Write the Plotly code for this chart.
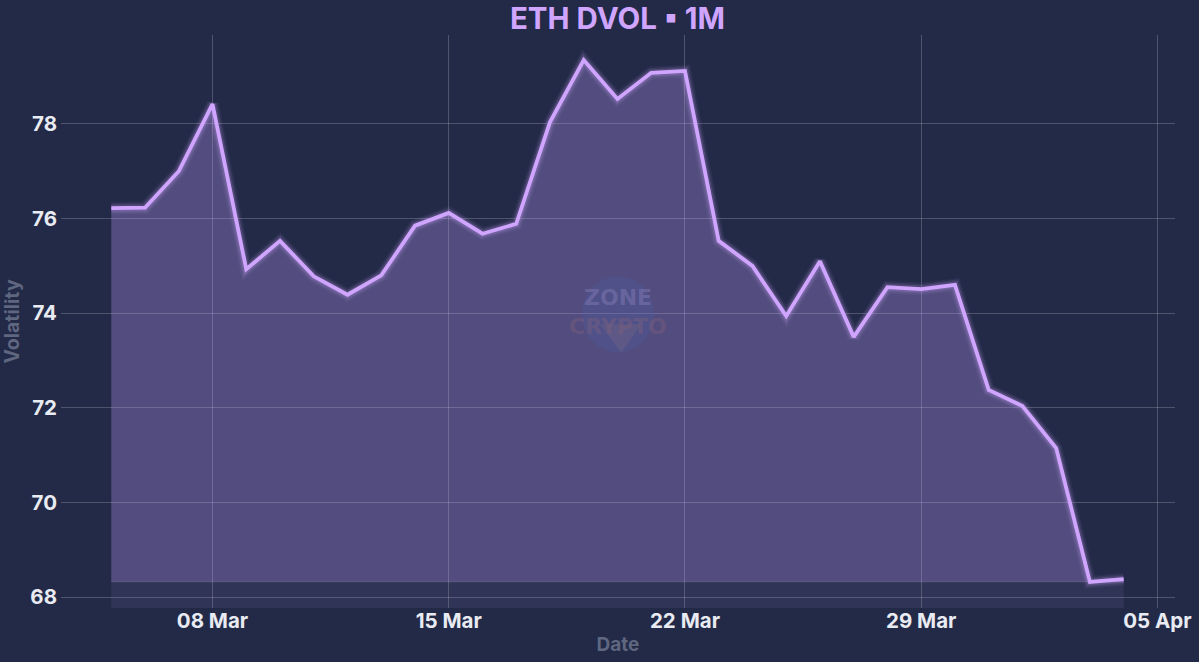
import plotly.graph_objects as go

# daily ETH DVOL values
dates = [
    "2025-03-05", "2025-03-06", "2025-03-07", "2025-03-08", "2025-03-09", "2025-03-10", "2025-03-11",
    "2025-03-12", "2025-03-13", "2025-03-14", "2025-03-15", "2025-03-16", "2025-03-17", "2025-03-18",
    "2025-03-19", "2025-03-20", "2025-03-21", "2025-03-22", "2025-03-23", "2025-03-24", "2025-03-25",
    "2025-03-26", "2025-03-27", "2025-03-28", "2025-03-29", "2025-03-30", "2025-03-31", "2025-04-01",
    "2025-04-02", "2025-04-03", "2025-04-04",
]
dvol = [
    76.22, 76.23, 77.0, 78.42, 74.93, 75.53, 74.78,
    74.39, 74.8, 75.85, 76.12, 75.68, 75.89, 78.04,
    79.35, 78.53, 79.08, 79.12, 75.53, 75.0, 73.94,
    75.1, 73.5, 74.55, 74.51, 74.6, 72.38, 72.04,
    71.15, 68.32, 68.38,
]
floor = [min(dvol)] * len(dvol)

tick_dates = ["2025-03-08", "2025-03-15", "2025-03-22", "2025-03-29", "2025-04-05"]
tick_labels = ["08 Mar", "15 Mar", "22 Mar", "29 Mar", "05 Apr"]
y_ticks = [68, 70, 72, 74, 76, 78]

BG = "#222A47"
PURPLE = "#D0A5FF"

fig = go.Figure()

# pale band from the lowest value down to the axis
fig.add_trace(go.Scatter(
    x=dates, y=floor, mode="lines", line=dict(width=1, color="rgba(255,255,255,0.10)"),
    fill="tozeroy", fillcolor="rgba(200,170,255,0.09)", hoverinfo="skip",
))
# main area between the lowest value and the line
fig.add_trace(go.Scatter(
    x=dates, y=dvol, mode="lines", line=dict(width=0),
    fill="tonexty", fillcolor="rgba(196,160,255,0.30)", hoverinfo="skip",
))
# glow
for w, a in [(13, 0.05), (10, 0.09), (7, 0.16)]:
    fig.add_trace(go.Scatter(
        x=dates, y=dvol, mode="lines", hoverinfo="skip",
        line=dict(color=f"rgba(208,165,255,{a})", width=w),
    ))
fig.add_trace(go.Scatter(x=dates, y=dvol, mode="lines", name="DVOL", line=dict(color=PURPLE, width=3.8)))

# watermark
fig.add_shape(
    type="circle", xref="paper", yref="paper", layer="above", line_width=0,
    x0=0.4677, x1=0.5323, y0=0.446, y1=0.579, fillcolor="rgba(70,100,190,0.18)",
)
fig.add_shape(
    type="path", xref="paper", yref="paper", layer="above", line_width=0,
    path="M 0.484 0.495 L 0.521 0.495 L 0.503 0.446 Z", fillcolor="rgba(125,105,125,0.30)",
)
fig.add_annotation(
    text="ZONE", xref="paper", yref="paper", x=0.5, y=0.542, showarrow=False,
    font=dict(family="DejaVu Sans", size=22, color="rgba(140,130,190,0.42)", weight=800),
)
fig.add_annotation(
    text="CRYPTO", xref="paper", yref="paper", x=0.5, y=0.491, showarrow=False,
    font=dict(family="DejaVu Sans", size=22, color="rgba(125,95,125,0.45)", weight=800),
)

fig.update_layout(
    width=1199, height=662,
    paper_bgcolor=BG, plot_bgcolor=BG,
    showlegend=False,
    margin=dict(l=61, r=24, t=35, b=54),
    font=dict(family="Inter"),
    title=dict(
        text="ETH DVOL ▪ 1M", x=0.515, xanchor="center", y=0.972, yanchor="middle",
        font=dict(family="Inter", size=29.5, color=PURPLE, weight=700),
    ),
)
fig.update_xaxes(
    range=["2025-03-03 12:15", "2025-04-05 12:30"],
    tickvals=tick_dates, ticktext=tick_labels, automargin=False, ticklabelstandoff=-2,
    tickfont=dict(size=20.5, color="#E9EBF2", weight=700),
    title=dict(text="Date", font=dict(size=19, color="#5F6680", weight=700), standoff=6),
    gridcolor="rgba(255,255,255,0.20)", gridwidth=1, zeroline=False, showline=False, ticks="",
)
fig.update_yaxes(
    range=[67.77, 79.88],
    tickvals=y_ticks, automargin=False, ticklabelstandoff=3,
    tickfont=dict(size=20.5, color="#E9EBF2", weight=700),
    title=dict(text="Volatility", font=dict(size=19.5, color="#5F6680", weight=700), standoff=6),
    gridcolor="rgba(255,255,255,0.20)", gridwidth=1, zeroline=False, showline=False, ticks="",
)

fig.write_html("out.html", config=dict(displayModeBar=False), post_script="document.body.style.margin='0';")
